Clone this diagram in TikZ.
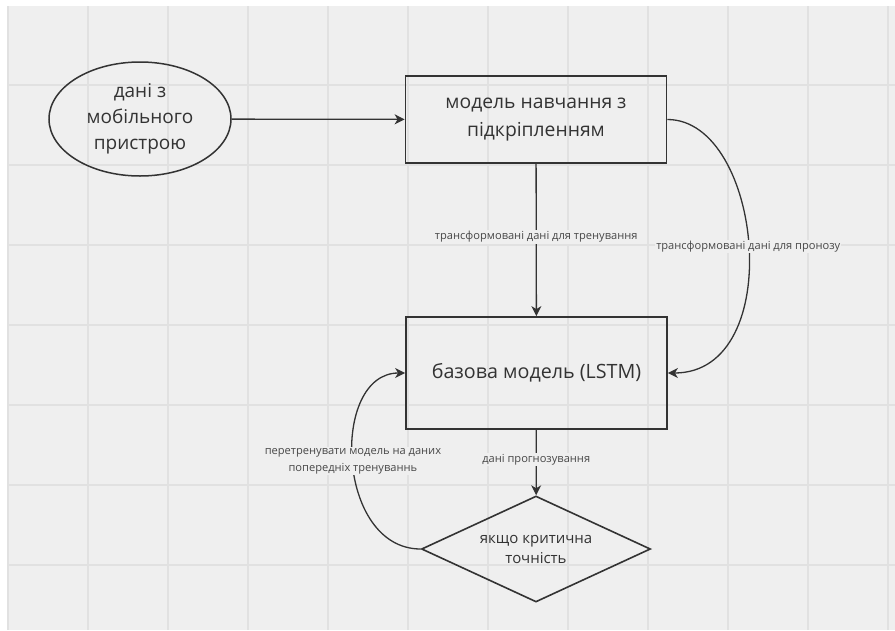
\documentclass[tikz,border=0pt]{standalone}
\usepackage{fontspec}
\setmainfont{Open Sans}
\usepackage{tikz}
\usetikzlibrary{shapes.geometric}
\usetikzlibrary{arrows.meta}
\definecolor{ink}{HTML}{333333}
\definecolor{paper}{HTML}{EFEFEF}
\definecolor{gridline}{HTML}{E1E1E1}

\begin{document}
\begin{tikzpicture}[x=1pt,y=-1pt,
    box/.style={draw=ink,line width=1.8pt,minimum width=261pt,align=center,text=ink},
    flow/.style={draw=ink,line width=1.3pt,-{Stealth[length=10pt,width=10pt,inset=3pt]}},
    note/.style={fill=paper,text=ink!90,font=\fontsize{11.1}{17}\selectfont,align=center,inner sep=1pt}
    ]

  \useasboundingbox (0,0) rectangle (895,630);
  \fill[paper] (7,6) rectangle (895,630);
  \foreach \x in {8,88,...,888} \draw[gridline,line width=1.2pt] (\x,6) -- (\x,630);
  \foreach \y in {85,165,...,565} \draw[gridline,line width=1.2pt] (7,\y) -- (895,\y);

  \node[ellipse,draw=ink,line width=1.5pt,minimum width=182pt,minimum height=114pt,
        align=center,text=ink,font=\fontsize{19}{26}\selectfont] (phone) at (140,119)
        {дані з\\мобільного\\пристрою};
  \node[box,minimum height=87pt,font=\fontsize{19.3}{28}\selectfont] (rl) at (536,119.5)
        {модель навчання з\\підкріпленням};
  \node[box,minimum height=112pt,font=\fontsize{19.7}{28}\selectfont] (lstm) at (536.5,373)
        {базова модель (LSTM)};
  \node[diamond,draw=ink,line width=1.6pt,inner sep=0pt,shape aspect=2.16,
        minimum width=229pt,minimum height=106pt,
        align=center,text=ink,font=\fontsize{15}{20}\selectfont] (check) at (536,549)
        {якщо критична\\точність};

  \draw[flow] (phone) -- (rl);
  \draw[flow] (rl) -- node[note,pos=0.48] {трансформовані дані для тренування} (lstm);
  \draw[flow] (rl.east) .. controls +(95,0) and +(120,0) ..
        node[note] {трансформовані дані для пронозу} (lstm.east);
  \draw[flow] (lstm) -- node[note,pos=0.45] {дані прогнозування} (check);
  \draw[flow] (check.west) .. controls +(-85,0) and +(-75,0) ..
        node[note] {перетренувати модель на даних\\попередніх тренуваннь} (lstm.west);
\end{tikzpicture}
\end{document}
